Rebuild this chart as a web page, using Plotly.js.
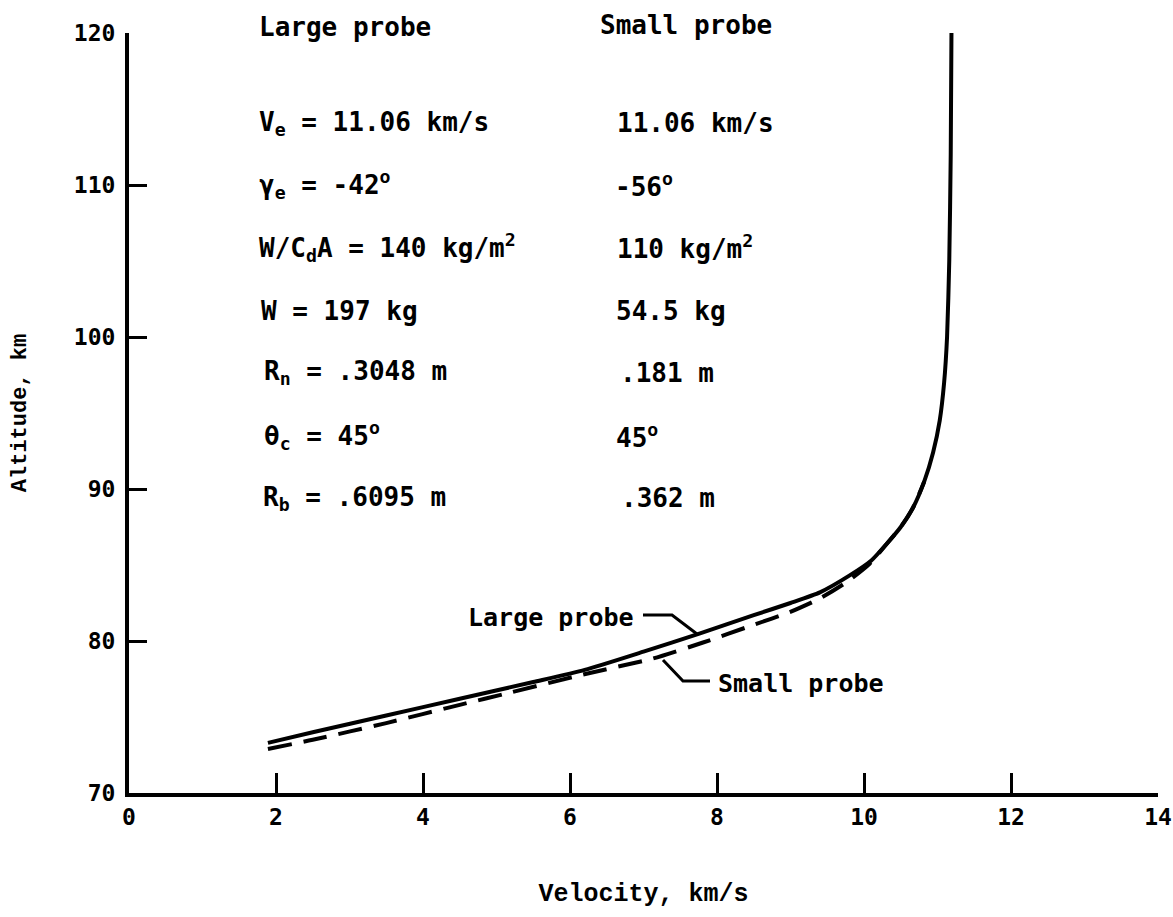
<!DOCTYPE html>
<html>
<head>
<meta charset="utf-8">
<script src="https://cdn.plot.ly/plotly-3.0.1.min.js"></script>
<style>html,body{margin:0;padding:0;background:#fff;}#chart{width:1173px;height:917px;}</style>
</head>
<body>
<div id="chart"></div>
<script>
// ---- Data ----
const largeVelocity = [1.89, 2.5, 3.5, 4.5, 5.5, 6.2, 7.0, 7.77, 8.5, 9.0, 9.4, 9.8, 10.1, 10.31, 10.5, 10.67, 10.82, 10.94, 11.03, 11.09, 11.13, 11.16, 11.18, 11.19];
const largeAltitude = [73.3, 74.0, 75.1, 76.2, 77.3, 78.1, 79.3, 80.5, 81.7, 82.5, 83.2, 84.3, 85.3, 86.4, 87.5, 88.8, 90.5, 92.4, 94.5, 97.0, 100.0, 105.0, 112.0, 120.0];
const smallVelocity = [1.89, 2.5, 3.5, 4.5, 5.18, 6.18, 7.13, 7.81, 8.49, 8.99, 9.4, 9.77, 10.08, 10.31, 10.5, 10.67, 10.82];
const smallAltitude = [72.9, 73.5, 74.6, 75.8, 76.6, 77.8, 78.85, 79.9, 81.05, 81.9, 82.8, 83.9, 85.1, 86.4, 87.5, 88.8, 90.5];
const xTicks = [0, 2, 4, 6, 8, 10, 12, 14];
const yTicks = [70, 80, 90, 100, 110, 120];
const largeParams = ["Large probe", "V<sub>e</sub> = 11.06 km/s", "γ<sub>e</sub> = -42<sup>o</sup>", "W/C<sub>d</sub>A = 140 kg/m<sup>2</sup>", "W = 197 kg", "R<sub>n</sub> = .3048 m", "θ<sub>c</sub> = 45<sup>o</sup>", "R<sub>b</sub> = .6095 m"];
const smallParams = ["Small probe", "11.06 km/s", "-56<sup>o</sup>", "110 kg/m<sup>2</sup>", "54.5 kg", ".181 m", "45<sup>o</sup>", ".362 m"];
const curveLabels = ["Large probe", "Small probe"];

// ---- layout helpers (pixel -> paper / data) ----
const PX0 = 129, PX1 = 1158, PY0 = 793, PY1 = 33;
const px = p => (p - PX0) / (PX1 - PX0);
const py = p => (PY0 - p) / (PY0 - PY1);
const dx = p => px(p) * 14;
const dy = p => 70 + py(p) * 50;

const FONT = {family: "DejaVu Sans Mono", size: 26, color: "#000", weight: "bold"};
const rowY = [27, 123, 185, 247, 311, 373, 436, 498];
const rowYR = [25, 123, 185, 247, 311, 373, 436, 498];
const leftX = [257, 257, 257, 257, 259, 262, 262, 261];
const rightX = [598, 615, 613, 615, 614, 618, 614, 619];

const annotations = [];
const ann = (t, x, y, xa, f) => ({text: t, x: px(x), y: py(y), xref: "paper", yref: "paper", xanchor: xa, yanchor: "middle", showarrow: false, font: f || FONT});
largeParams.forEach((t, i) => annotations.push(ann(t, leftX[i], rowY[i], "left")));
smallParams.forEach((t, i) => annotations.push(ann(t, rightX[i], rowYR[i], "left")));
const LFONT = {family: "DejaVu Sans Mono", size: 25, color: "#000", weight: "bold"};
annotations.push(ann(curveLabels[0], 636, 617, "right", LFONT));
annotations.push(ann(curveLabels[1], 716, 683, "left", LFONT));

const pathFrom = pts => pts.map((p, i) => (i ? "L" : "M") + dx(p[0]) + "," + dy(p[1])).join(" ");
const shapes = [
  {type: "path", xref: "x", yref: "y", path: pathFrom([[643, 615], [672, 615], [697, 634]]), line: {color: "#000", width: 3}},
  {type: "path", xref: "x", yref: "y", path: pathFrom([[663, 660], [683, 681], [710, 681]]), line: {color: "#000", width: 3}}
];

const traces = [
  {x: largeVelocity, y: largeAltitude, mode: "lines", line: {color: "#000", width: 4, shape: "spline", smoothing: 0.6}, name: "Large probe", showlegend: false, hoverinfo: "skip"},
  {x: smallVelocity, y: smallAltitude, mode: "lines", line: {color: "#000", width: 4, dash: "24px,12px", shape: "spline", smoothing: 0.6}, name: "Small probe", showlegend: false, hoverinfo: "skip"}
];

const layout = {
  width: 1173, height: 917,
  margin: {l: PX0, r: 1173 - PX1, t: PY1, b: 917 - PY0},
  paper_bgcolor: "#fff", plot_bgcolor: "#fff",
  showlegend: false,
  xaxis: {range: [0, 14], tickvals: xTicks, ticktext: xTicks.map(String), showgrid: false, zeroline: false,
    showline: true, linecolor: "#000", linewidth: 4, ticks: "inside", ticklen: 20, tickwidth: 3, tickcolor: "#000",
    tickfont: {family: "DejaVu Sans Mono", size: 23, color: "#000", weight: "bold"},
    title: {text: "Velocity, km/s", font: {family: "Liberation Mono", size: 25, color: "#000", weight: "bold"}, standoff: 56}},
  yaxis: {range: [70, 120], tickvals: yTicks, ticktext: yTicks.map(String), showgrid: false, zeroline: false,
    showline: true, linecolor: "#000", linewidth: 4, ticks: "inside", ticklen: 18, tickwidth: 3, tickcolor: "#000",
    ticklabelstandoff: 5,
    tickfont: {family: "DejaVu Sans Mono", size: 23, color: "#000", weight: "bold"},
    title: {text: "Altitude, km", font: {family: "Liberation Mono", size: 22, color: "#000", weight: "bold"}, standoff: 42}},
  annotations: annotations,
  shapes: shapes
};

Plotly.newPlot("chart", traces, layout, {displayModeBar: false, staticPlot: true});
</script>
</body>
</html>
